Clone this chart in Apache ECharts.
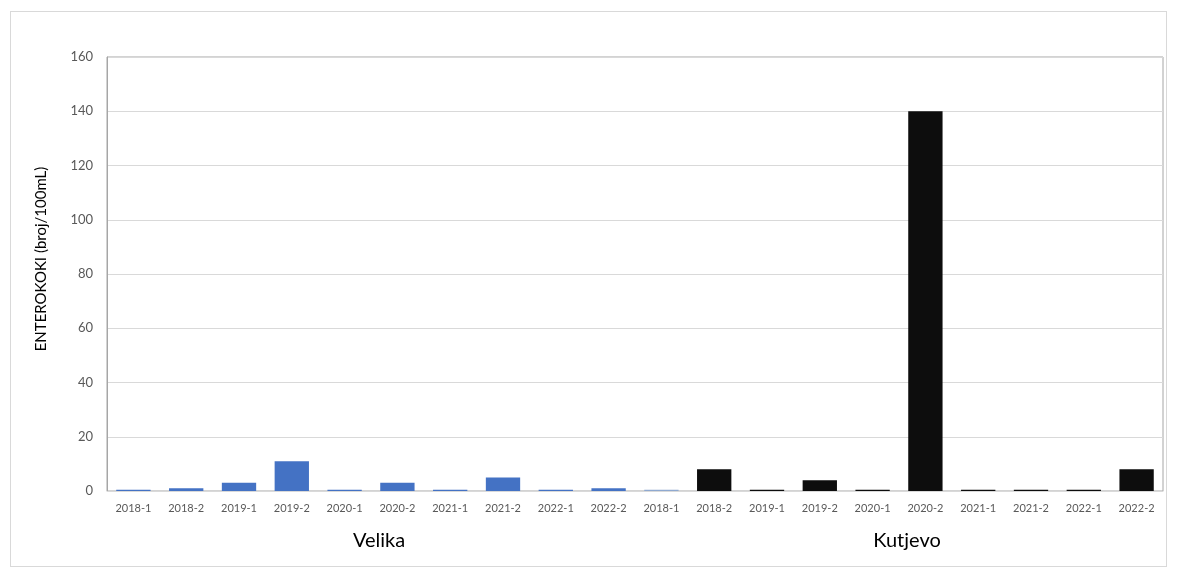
<!DOCTYPE html>
<html>
<head>
<meta charset="utf-8">
<script src="https://cdn.jsdelivr.net/npm/echarts@6/dist/echarts.min.js"></script>
<style>
html,body{margin:0;padding:0;background:#fff;}
#frame{position:absolute;left:10px;top:11px;width:1157px;height:556px;border:1px solid #d9d9d9;box-sizing:border-box;}
#chart{position:absolute;left:0;top:0;width:1178px;height:569px;}
</style>
</head>
<body>
<div id="frame"></div>
<div id="chart"></div>
<script>
const categories = ["2018-1","2018-2","2019-1","2019-2","2020-1","2020-2","2021-1","2021-2","2022-1","2022-2",
                    "2018-1","2018-2","2019-1","2019-2","2020-1","2020-2","2021-1","2021-2","2022-1","2022-2"];
const groups = ["Velika","Kutjevo"];
const velikaValues = [0.5,1,3,11,0.5,3,0.5,5,0.5,1];
const kutjevoValues = [0.5,8,0.5,4,0.5,140,0.5,0.5,0.5,8];
const yAxisTitle = "ENTEROKOKI (broj/100mL)";

const velikaColor = "#4472c4";
const kutjevoColor = "#0d0d0d";

const barData = [];
velikaValues.forEach(v => barData.push({value: v, itemStyle: {color: velikaColor}}));
kutjevoValues.forEach((v, i) => barData.push({value: v, itemStyle: {color: i === 0 ? "#8fa9d0" : kutjevoColor}}));

const chart = echarts.init(document.getElementById('chart'));
chart.setOption({
  animation: false,
  textStyle: {fontFamily: "Lato, 'Open Sans', sans-serif"},
  grid: {left: 107, right: 15, top: 57, bottom: 78, show: true, borderColor: '#a6a6a6', borderWidth: 1},
  xAxis: [{
    type: 'category',
    data: categories,
    axisLine: {show: true, lineStyle: {color: '#d9d9d9'}},
    axisTick: {show: false},
    axisLabel: {color: '#595959', fontSize: 11, margin: 12, interval: 0}
  }, {
    type: 'category',
    data: groups,
    position: 'bottom',
    offset: 32,
    axisLine: {show: false},
    axisTick: {show: false},
    axisLabel: {color: '#000', fontSize: 20, interval: 0, padding: [0, 0, 0, 16]}
  }],
  yAxis: {
    type: 'value',
    min: 0, max: 160, interval: 20,
    name: yAxisTitle,
    nameLocation: 'middle',
    nameGap: 58,
    nameTextStyle: {color: '#000', fontSize: 15, padding: [0, 0, 0, 30]},
    axisLine: {show: true, lineStyle: {color: '#a6a6a6'}},
    axisTick: {show: false},
    axisLabel: {color: '#595959', fontSize: 13, margin: 14},
    splitLine: {lineStyle: {color: '#d9d9d9'}}
  },
  series: [{
    type: 'bar',
    xAxisIndex: 0,
    data: barData,
    barCategoryGap: '35%'
  }]
});
</script>
</body>
</html>
